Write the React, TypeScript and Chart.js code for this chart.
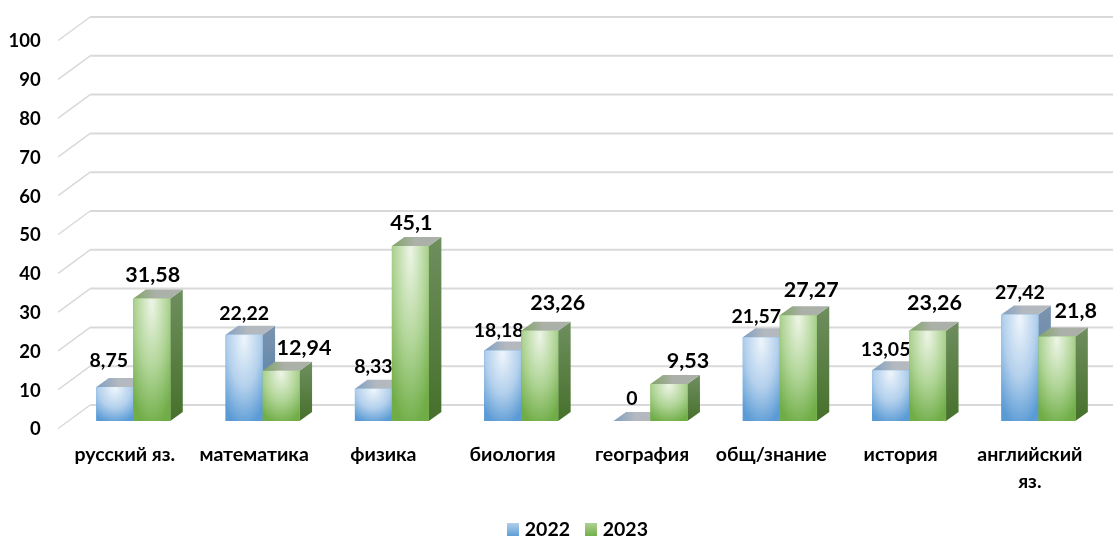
import React, { useEffect, useRef } from "react";
import { Chart, registerables } from "chart.js";

Chart.register(...registerables);

const categories = ["русский яз.", "математика", "физика", "биология", "география", "общ/знание", "история", ["английский", "яз."]];
const series2022 = [8.75, 22.22, 8.33, 18.18, 0, 21.57, 13.05, 27.42];
const series2023 = [31.58, 12.94, 45.1, 23.26, 9.53, 27.27, 23.26, 21.8];
const seriesNames = ["2022", "2023"];
const labelNudge2022 = [[-6, -4], [0, 1], [0, 0], [-4, 2], [0, 0], [-5, 1], [-5, 1], [0, 0]];
const labelNudge2023 = [[1, 0], [23, 0], [1, 0], [18, -5], [19, 0], [13, -2], [7, -5], [19, -2]];

const FONT = "Lato, Carlito, 'Open Sans', sans-serif";
const DX = 12.5;
const DY = 9;
const WALL_DY = 16;
const FRONT_DY = 7.5;

const palette = [
  { base: "#5B9BD5", light: "#EEF5FC", mid: "#B3D0EC", sideTop: "#7C94AE", sideBottom: "#4F7EA8", topA: "#7F9FC2", topB: "#B4B9BF" },
  { base: "#70AD47", light: "#EDF5E6", mid: "#AFD495", sideTop: "#6F8F5F", sideBottom: "#46702B", topA: "#7FA464", topB: "#ABB0A8" },
];

const poly = (ctx: CanvasRenderingContext2D, pts: number[][], fill: any) => {
  ctx.beginPath();
  pts.forEach((p, i) => (i ? ctx.lineTo(p[0], p[1]) : ctx.moveTo(p[0], p[1])));
  ctx.closePath();
  ctx.fillStyle = fill;
  ctx.fill();
};

const legendSwatch = (i: number) => {
  const cv = document.createElement("canvas");
  cv.width = 12;
  cv.height = 14;
  const c = cv.getContext("2d")!;
  const g = c.createLinearGradient(0, 0, 0, 14);
  g.addColorStop(0, palette[i].mid);
  g.addColorStop(1, palette[i].base);
  c.fillStyle = g;
  c.fillRect(0, 0, 12, 14);
  return cv;
};

const wallPlugin = {
  id: "wall3d",
  beforeDraw(chart: any) {
    const lg = chart.legend;
    lg.left = 56;
    lg.right = 1103;
    lg.top = 501;
    lg.bottom = chart.height;
    chart.scales.x.bottom = chart.height;
  },
  beforeDatasetsDraw(chart: any) {
    const { ctx, scales } = chart;
    const yS = scales.y;
    const left = chart.chartArea.left;
    ctx.save();
    ctx.strokeStyle = "#D9D9D9";
    yS.ticks.forEach((t: any) => {
      const wallY = yS.getPixelForValue(t.value) - WALL_DY;
      const frontY = yS.getPixelForValue(t.value) + FRONT_DY;
      ctx.lineWidth = 1.5;
      ctx.beginPath();
      ctx.moveTo(left - 10.5, frontY);
      ctx.lineTo(left + 21.5, wallY);
      ctx.stroke();
      ctx.lineWidth = 2;
      ctx.beginPath();
      ctx.moveTo(left + 21.5, wallY);
      ctx.lineTo(chart.width, wallY);
      ctx.stroke();
    });
    chart.data.datasets.forEach((_: any, di: number) => {
      const c = palette[di];
      chart.getDatasetMeta(di).data.forEach((el: any) => {
        const l = el.x - el.width / 2;
        const r = el.x + el.width / 2;
        const side = ctx.createLinearGradient(0, el.y - DY, 0, el.base);
        side.addColorStop(0, c.sideTop);
        side.addColorStop(1, c.sideBottom);
        poly(ctx, [[r, el.y], [r + DX, el.y - DY], [r + DX, el.base - DY], [r, el.base]], side);
        const top = ctx.createLinearGradient(l, 0, r + DX, 0);
        top.addColorStop(0, c.topA);
        top.addColorStop(0.45, c.topB);
        top.addColorStop(1, c.topB);
        poly(ctx, [[l, el.y], [l + DX, el.y - DY], [r + DX, el.y - DY], [r, el.y]], top);
      });
    });
    ctx.restore();
  },
  afterDatasetsDraw(chart: any) {
    const { ctx } = chart;
    chart.data.datasets.forEach((ds: any, di: number) => {
      const c = palette[di];
      const nudges = di === 0 ? labelNudge2022 : labelNudge2023;
      chart.getDatasetMeta(di).data.forEach((el: any, i: number) => {
        const w = el.width;
        const h = el.base - el.y;
        const l = el.x - w / 2;
        if (h > 0) {
          ctx.save();
          ctx.beginPath();
          ctx.rect(l, el.y, w, h);
          ctx.clip();
          ctx.translate(el.x, el.y + Math.min(h * 0.05, 4));
          ctx.scale(w * 0.8, h * 1.02);
          const g = ctx.createRadialGradient(0, 0, 0, 0, 0, 1);
          g.addColorStop(0, c.light);
          g.addColorStop(0.55, c.mid);
          g.addColorStop(1, c.base);
          ctx.fillStyle = g;
          ctx.fillRect(-3, -3, 6, 6);
          ctx.restore();
        }
        ctx.save();
        ctx.fillStyle = "#000";
        ctx.textAlign = "center";
        ctx.textBaseline = "middle";
        ctx.font = `bold ${di === 0 ? 19.5 : 21.5}px ${FONT}`;
        const txt = String(ds.data[i]).replace(".", ",");
        const [nx, ny] = nudges[i];
        ctx.fillText(txt, el.x + nx, el.y - (di === 0 ? 22 : 23) + ny);
        ctx.restore();
      });
    });
  },
};

export default function App() {
  const ref = useRef<HTMLCanvasElement>(null);
  useEffect(() => {
    document.body.style.margin = "0";
    const chart = new Chart(ref.current!, {
      type: "bar",
      data: {
        labels: categories as any,
        datasets: [
          { label: seriesNames[0], data: series2022, backgroundColor: palette[0].base, borderWidth: 0 },
          { label: seriesNames[1], data: series2023, backgroundColor: palette[1].base, borderWidth: 0 },
        ],
      },
      plugins: [wallPlugin],
      options: {
        responsive: false,
        animation: false,
        layout: { padding: { left: 0, right: 10, top: 33, bottom: 0 } },
        datasets: { bar: { categoryPercentage: 0.572, barPercentage: 1 } },
        scales: {
          x: {
            grid: { display: false, drawTicks: false },
            border: { display: false },
            afterFit: (s: any) => { s.height = 115 - s.chart.legend.height; },
            ticks: {
              color: "#000",
              maxRotation: 0,
              autoSkip: false,
              padding: 20,
              labelOffset: -8.5,
              font: { family: FONT, size: 19.5, weight: "bold", lineHeight: 1.4 },
            },
          },
          y: {
            min: 0,
            max: 100,
            grid: { display: false, drawTicks: false },
            border: { display: false },
            afterFit: (s: any) => { s.width = 68.65; s.paddingTop = 0; s.paddingBottom = 0; },
            ticks: {
              stepSize: 10,
              color: "#000",
              padding: 28,
              labelOffset: 8.5,
              font: { family: FONT, size: 18.5, weight: "bold" },
            },
          },
        },
        plugins: {
          tooltip: { enabled: false },
          legend: {
            position: "bottom",
            labels: {
              color: "#000",
              usePointStyle: true,
              pointStyleWidth: 4,
              boxHeight: 14,
              padding: 19,
              font: { family: FONT, size: 19.5, weight: "bold" },
              generateLabels: (c: any) =>
                c.data.datasets.map((d: any, i: number) => ({
                  text: d.label,
                  pointStyle: legendSwatch(i),
                  fillStyle: palette[i].base,
                  strokeStyle: palette[i].base,
                  lineWidth: 0,
                  datasetIndex: i,
                  fontColor: "#000",
                })),
            },
          },
        },
      } as any,
    });
    return () => chart.destroy();
  }, []);
  return <canvas ref={ref} width={1113} height={536} style={{ display: "block", filter: "blur(0.4px)" }} />;
}
